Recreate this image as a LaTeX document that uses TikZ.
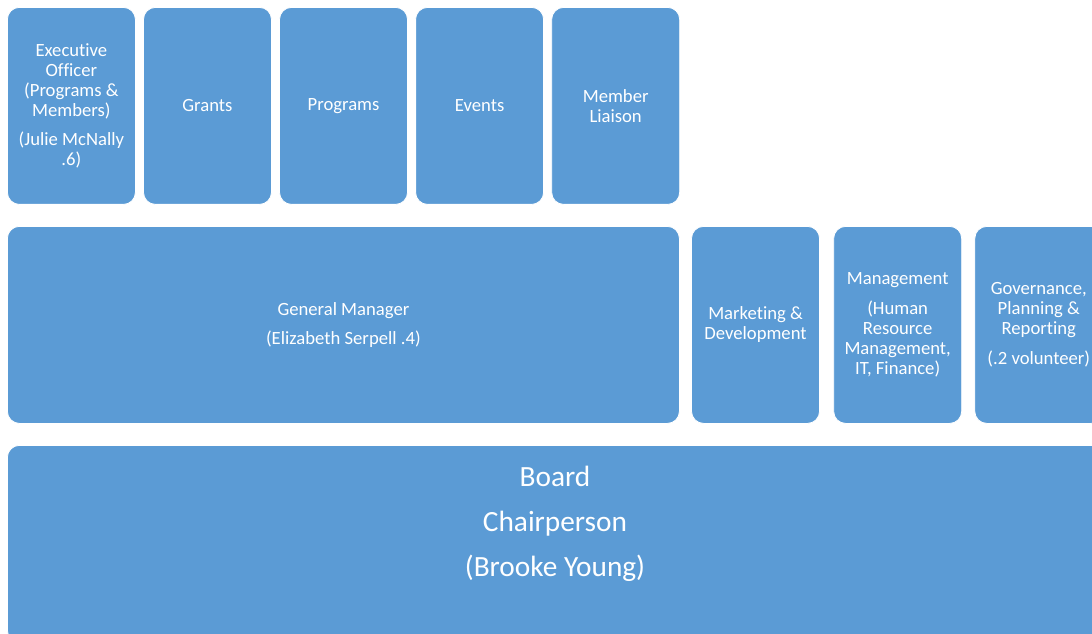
\documentclass[tikz,border=0pt]{standalone}
\usepackage{fontspec}
\setmainfont{Carlito}[Ligatures=NoCommon]
\usetikzlibrary{positioning}
\definecolor{unitblue}{HTML}{5B9BD5}

\begin{document}
\begin{tikzpicture}[x=0.75pt, y=-0.75pt, node distance=5.45pt,
  every node/.style = {align=center, text=white,
    font=\fontsize{14}{15}\selectfont},
  unit/.style = {shape=rectangle, rounded corners=9pt,
    draw=white, line width=0.6pt, fill=unitblue,
    minimum width=96pt, minimum height=147.75pt, inner sep=2pt}]
  \useasboundingbox (0,0) rectangle (1092,634);
  \clip (0,0) rectangle (1092,634);
  % top row
  \node[unit, anchor=north west] (exec) at (7,7)
    {Executive\\Officer\\(Programs \&\\Members)\\[7pt](Julie McNally\\.6)};
  \node[unit, right=of exec] (grants) {Grants};
  \node[unit, right=of grants] (programs) {Programs};
  \node[unit, right=of programs] (events) {Events};
  \node[unit, right=of events] (liaison) {Member\\Liaison};
  % middle row
  \node[unit, anchor=north west, minimum width=504pt] (gm) at (7,226)
    {General Manager\\[7pt](Elizabeth Serpell .4)};
  \node[unit, right=8.5pt of gm] (marketing) {Marketing \&\\Development};
  \node[unit, right=10pt of marketing] (management)
    {Management\\[7pt](Human\\Resource\\Management,\\IT, Finance)};
  \node[unit, right=9.25pt of management] (governance)
    {Governance,\\Planning \&\\Reporting\\[7pt](.2 volunteer)};
  % board
  \node[unit, anchor=north west, minimum width=822pt] (board) at (7,445) {};
  \node[font=\fontsize{22}{34}\selectfont] (boardtext) at (555,524)
    {Board\\Chairperson\\(Brooke Young)};
\end{tikzpicture}
\end{document}
